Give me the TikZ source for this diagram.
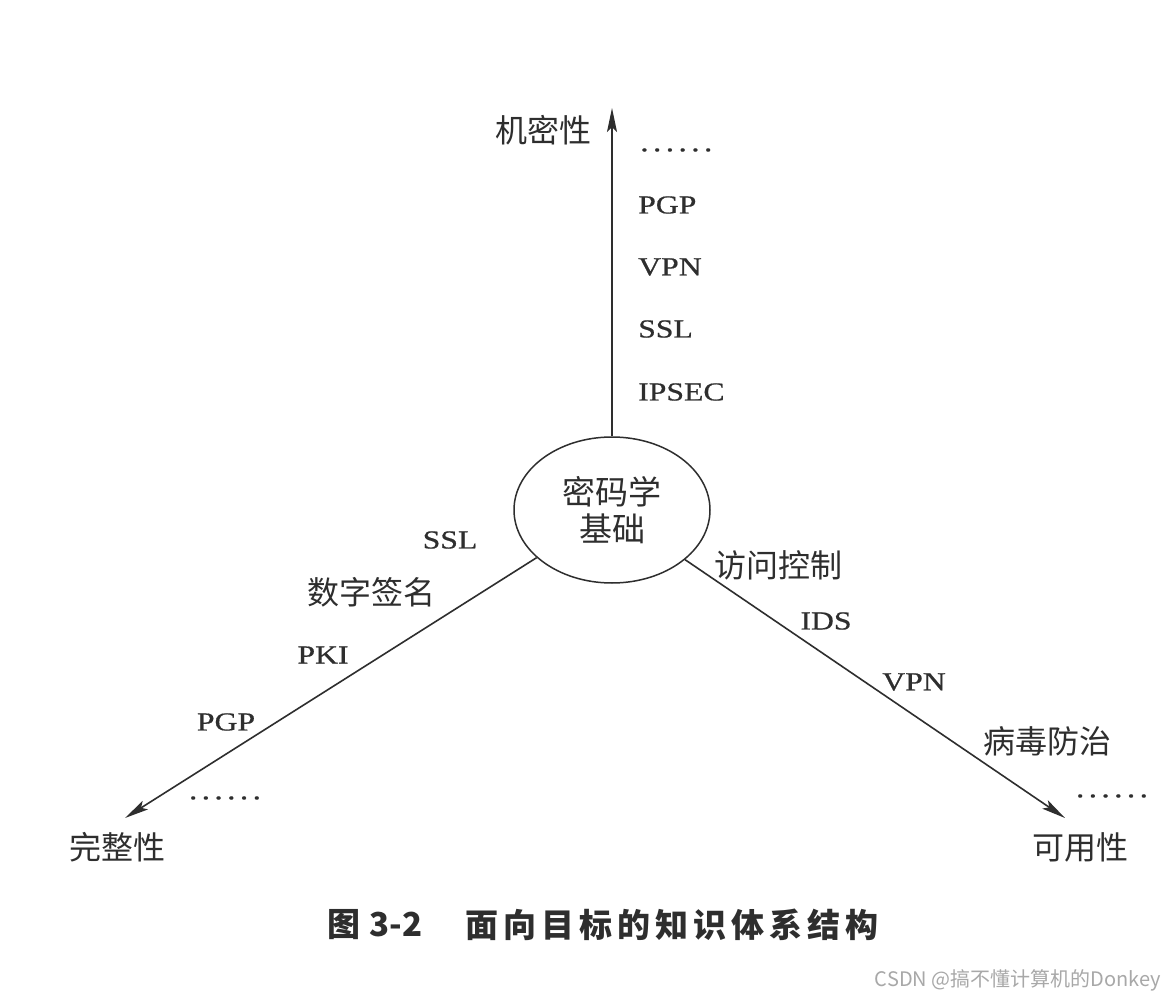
\documentclass[tikz,border=0pt]{standalone}
\usepackage{fontspec}
\usetikzlibrary{shapes.geometric,arrows.meta}
\newfontfamily\lat{Liberation Serif}[FakeStretch=1.22,FakeBold=0.6]
\newfontfamily\cjk{Noto Sans CJK SC}
\definecolor{ink}{HTML}{2E2E2E}
\definecolor{wm}{HTML}{A8A8A8}
\newcommand{\sixdots}{.\hspace{4.2pt}.\hspace{4.2pt}.\hspace{4.2pt}.\hspace{4.2pt}.\hspace{4.2pt}.}
\newcommand{\cc}[1]{\makebox[38pt]{#1}}
\begin{document}
\begin{tikzpicture}[x=1pt,y=-1pt,
  latlbl/.style={inner sep=0pt,text=ink,font=\lat\fontsize{26}{30}\selectfont},
  cjklbl/.style={inner sep=0pt,text=ink,font=\cjk\fontsize{32}{36}\selectfont},
  dotlbl/.style={inner sep=0pt,text=ink,font=\lat\fontsize{28}{30}\selectfont},
  arr/.style={draw=ink,line width=1.6pt,-{Stealth[length=24pt,width=10pt,inset=5pt]}},
  capt/.style={inner sep=0pt,text=ink,font=\cjk\bfseries\fontsize{33}{40}\selectfont}
]
\fill[white] (0,0) rectangle (1173,1000);
\useasboundingbox (0,0) rectangle (1173,1000);

% central ellipse
\node[ellipse,draw=ink,line width=1.5pt,minimum width=196pt,minimum height=146pt,inner sep=0pt,
  align=center,text=ink,font=\cjk\fontsize{33}{37}\selectfont] (core) at (612,510) {密码学\\基础};

% arrow end points
\coordinate (topTip) at (612,108);
\coordinate (leftTip) at (125,818);
\coordinate (rightTip) at (1065,818);

\draw[arr] (core) -- (topTip);
\draw[arr] (core) -- (leftTip);
\draw[arr] (core) -- (rightTip);

% top branch
\node[cjklbl] (conf) at (543,130) {机密性};
\node[dotlbl,anchor=west] (tdots) at (640,150) {\sixdots};
\node[latlbl,anchor=west] (tpgp) at (638,205) {PGP};
\node[latlbl,anchor=west] (tvpn) at (638,267) {VPN};
\node[latlbl,anchor=west] (tssl) at (638,329) {SSL};
\node[latlbl,anchor=west] (tips) at (638,392) {IPSEC};

% left branch
\node[latlbl] (lssl) at (450,540) {SSL};
\node[cjklbl] (lsig) at (371,592) {数字签名};
\node[latlbl] (lpki) at (323,655) {PKI};
\node[latlbl] (lpgp) at (226,722) {PGP};
\node[dotlbl] (ldots) at (225,798) {\sixdots};
\node[cjklbl] (integ) at (117,847) {完整性};

% right branch
\node[cjklbl] (racc) at (778,565) {访问控制};
\node[latlbl] (rids) at (826,621) {IDS};
\node[latlbl] (rvpn) at (914,682) {VPN};
\node[cjklbl] (rvir) at (1047,741) {病毒防治};
\node[dotlbl] (rdots) at (1112,796) {\sixdots};
\node[cjklbl] (avail) at (1080,847) {可用性};

% caption
\node[capt] (capfig) at (344,925) {图};
\node[capt] (capnum) at (396,925) {3-2};
\node[capt,anchor=west] (captxt) at (463,925) {\cc{面}\cc{向}\cc{目}\cc{标}\cc{的}\cc{知}\cc{识}\cc{体}\cc{系}\cc{结}\cc{构}};

% watermark
\node[inner sep=0pt,text=wm,font=\cjk\fontsize{20}{24}\selectfont] (wmark) at (1018,980) {CSDN @搞不懂计算机的Donkey};
\end{tikzpicture}
\end{document}
